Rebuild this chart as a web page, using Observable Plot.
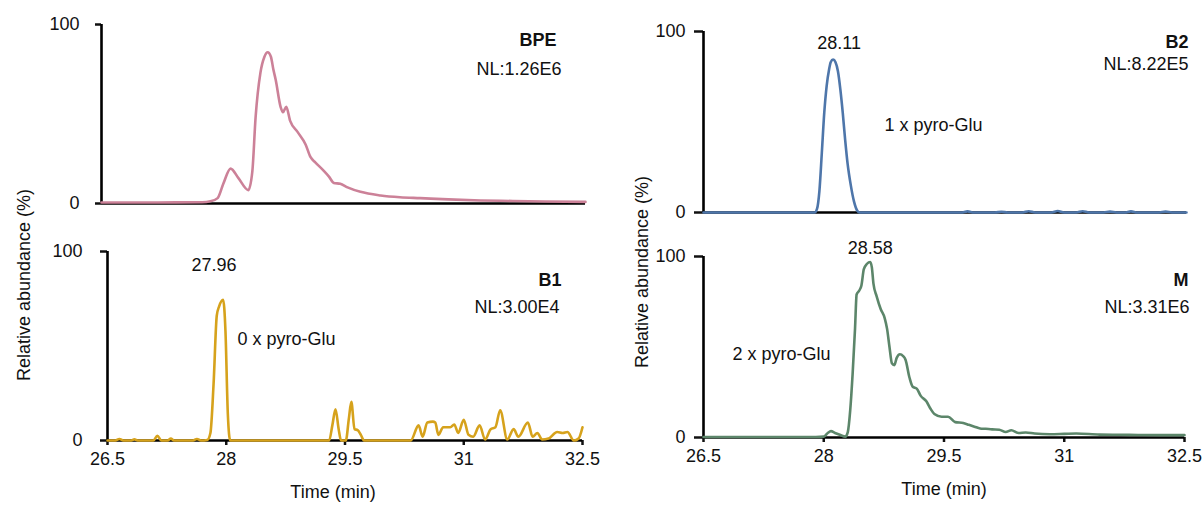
<!DOCTYPE html>
<html>
<head>
<meta charset="utf-8">
<script src="https://cdn.jsdelivr.net/npm/d3@7"></script>
<script src="https://cdn.jsdelivr.net/npm/@observablehq/plot@0.6"></script>
<style>
  html, body { margin: 0; padding: 0; background: #fff; }
  #chart { position: relative; width: 1203px; height: 505px; overflow: hidden;
           font-family: "Liberation Sans", Arial, sans-serif; font-size: 18px; color: #111; }
  .panel { position: absolute; }
  .ylabel { position: absolute; white-space: nowrap; transform: translate(-50%, -50%) rotate(-90deg); }
</style>
</head>
<body>
<div id="chart"></div>
<script>
// Retention-time axis and relative-abundance axis ticks
const timeTicks = [26.5, 28, 29.5, 31, 32.5];
const abundanceTicks = [0, 100];

// Base peak electropherogram (BPE)
const bpeTime = [26.5, 27.2, 27.75, 27.85, 27.94, 28.01, 28.1, 28.2, 28.32, 28.37, 28.41, 28.47, 28.52, 28.56, 28.6, 28.63, 28.66, 28.72, 28.75, 28.79, 28.84, 28.93, 29.03, 29.09, 29.15, 29.25, 29.32, 29.38, 29.46, 29.55, 29.71, 29.96, 30.2, 30.45, 30.8, 31.2, 31.6, 32.0, 32.5];
const bpeAbundance = [0.6, 0.6, 0.7, 1.2, 3, 11, 19.5, 14, 7.5, 18, 48, 73, 82, 84.5, 82, 75, 69, 54, 51, 54, 46, 40, 33, 26, 23, 18.5, 15, 11.5, 11, 9, 6.5, 4.5, 3.5, 3, 2.3, 1.7, 1.4, 1.1, 0.9];

// Extracted trace B1 (0 x pyro-Glu)
const b1Time = [26.5, 26.6, 26.65, 26.7, 26.8, 26.84, 26.88, 27.08, 27.13, 27.18, 27.26, 27.3, 27.34, 27.58, 27.63, 27.68, 27.76, 27.8, 27.84, 27.88, 27.91, 27.96, 27.99, 28.02, 28.05, 29.3, 29.34, 29.38, 29.42, 29.45, 29.51, 29.55, 29.58, 29.62, 29.66, 29.7, 29.74, 30.33, 30.43, 30.48, 30.54, 30.61, 30.64, 30.68, 30.74, 30.83, 30.88, 30.93, 31.0, 31.06, 31.12, 31.2, 31.27, 31.34, 31.4, 31.46, 31.55, 31.63, 31.69, 31.81, 31.87, 31.93, 31.99, 32.07, 32.18, 32.25, 32.31, 32.39, 32.45, 32.5];
const b1Abundance = [0, 0, 0.8, 0, 0, 0.6, 0, 0, 2.5, 0, 0, 1, 0, 0, 0.8, 0, 0.3, 4, 30, 66, 71, 74.5, 58, 14, 0, 0, 8, 16.5, 6, 0, 0, 12, 20.5, 6, 5.5, 3, 0, 0, 8, 2, 9.5, 10, 9.5, 3, 7, 7, 8.5, 4, 11, 3, 2, 8, 0.5, 6, 7, 16, 0.5, 6, 2, 9.5, 2, 4, 0.5, 1, 4.5, 4, 4.5, 0, 1, 7];

// Extracted trace B2 (1 x pyro-Glu)
const b2Time = [26.5, 27.88, 27.91, 27.94, 27.97, 28.0, 28.03, 28.06, 28.08, 28.11, 28.14, 28.17, 28.2, 28.23, 28.26, 28.29, 28.33, 28.37, 28.41, 28.44, 29.7, 29.78, 29.86, 30.12, 30.2, 30.28, 30.46, 30.54, 30.62, 30.82, 30.9, 30.98, 31.13, 31.21, 31.29, 31.47, 31.55, 31.63, 31.73, 31.81, 31.89, 32.16, 32.24, 32.32, 32.5];
const b2Abundance = [0, 0, 2, 12, 33, 55, 70, 79, 83, 84.5, 83, 78, 68, 55, 40, 27, 15, 6, 1, 0, 0, 0.6, 0, 0, 0.4, 0, 0, 0.7, 0, 0, 0.8, 0, 0, 0.7, 0, 0, 0.5, 0, 0, 0.6, 0, 0, 0.5, 0, 0];

// Extracted trace M (2 x pyro-Glu)
const mTime = [26.5, 27.9, 28.0, 28.05, 28.09, 28.14, 28.2, 28.27, 28.3, 28.33, 28.36, 28.39, 28.41, 28.44, 28.47, 28.5, 28.54, 28.58, 28.6, 28.62, 28.66, 28.71, 28.76, 28.79, 28.82, 28.85, 28.88, 28.91, 28.95, 28.99, 29.02, 29.07, 29.11, 29.16, 29.21, 29.28, 29.33, 29.38, 29.47, 29.55, 29.64, 29.74, 29.81, 29.88, 29.95, 30.02, 30.1, 30.19, 30.27, 30.34, 30.43, 30.52, 30.63, 30.82, 31.0, 31.15, 31.44, 31.7, 31.92, 32.2, 32.5];
const mAbundance = [0.3, 0.3, 0.5, 2.5, 3.5, 2.5, 1.5, 0.5, 3, 15, 35, 60, 79, 81, 84, 93, 96, 97, 94, 85, 78, 71, 66, 60, 50, 41, 40, 44, 46, 45, 43, 33, 28, 27, 23, 20, 16, 13, 11.5, 11.5, 8.5, 8, 7, 6, 5, 4.8, 4.5, 4.3, 3, 4, 2.5, 2.8, 2.2, 1.8, 2, 2.2, 1.6, 1.5, 1.4, 1.3, 1.3];

const rows = (time, value) => time.map((t, i) => ({t, v: value[i]}));

const panels = [
  {name: "BPE", nl: "NL:1.26E6", data: rows(bpeTime, bpeAbundance), color: "#CC8198",
   left: 31, top: 12, mL: 70, mR: 15, mT: 12, mB: 10, w: 484, h: 179,
   xAxis: false, tickSize: 6, tickPad: 16,
   nameAt: [-29, 9], nlAt: [-24, 38]},
  {name: "B1", nl: "NL:3.00E4", note: "0 x pyro-Glu", data: rows(b1Time, b1Abundance), color: "#D6A21C",
   left: 32, top: 231, mL: 75, mR: 20, mT: 20, mB: 65, w: 475, h: 189,
   xAxis: true, tickSize: 7, tickPad: 18, titleDx: -12,
   nameAt: [-21, 22], nlAt: [-23, 49], noteAt: [130, 81], peakAt: [-9, -34]},
  {name: "B2", nl: "NL:8.22E5", note: "1 x pyro-Glu", data: rows(b2Time, b2Abundance), color: "#4E76AA",
   left: 643, top: 19, mL: 60, mR: 15, mT: 12, mB: 10, w: 483, h: 181,
   xAxis: false, tickSize: 9, tickPad: 9,
   nameAt: [2, 4], nlAt: [2, 26], noteAt: [181, 87], peakAt: [6, -16]},
  {name: "M", nl: "NL:3.31E6", note: "2 x pyro-Glu", data: rows(mTime, mAbundance), color: "#5C866A",
   left: 643, top: 236, mL: 60, mR: 19, mT: 20, mB: 65, w: 481, h: 181,
   xAxis: true, tickSize: 9, tickPad: 9, titleDx: 0,
   nameAt: [4, 17], nlAt: [5, 44], noteAt: [29, 91], peakAt: [0, -14]}
];

const chart = document.getElementById("chart");

for (const p of panels) {
  const apex = d3.greatest(p.data, d => d.v);
  const marks = [
    Plot.axisY({ticks: abundanceTicks, tickSize: p.tickSize, tickPadding: p.tickPad,
                strokeWidth: 2.5, label: null, tickFormat: d => String(d)}),
    Plot.ruleX([26.5], {y1: 0, y2: 100, stroke: "#000", strokeWidth: 2.6}),
    Plot.ruleY([0], {stroke: "#000", strokeWidth: 2.6}),
    Plot.line(p.data, {x: "t", y: "v", stroke: p.color, strokeWidth: 2.6, curve: "monotone-x"}),
    Plot.text([p.name], {frameAnchor: "top-right", textAnchor: "end", fontWeight: "bold",
                         dx: p.nameAt[0], dy: p.nameAt[1]}),
    Plot.text([p.nl], {frameAnchor: "top-right", textAnchor: "end", dx: p.nlAt[0], dy: p.nlAt[1]})
  ];
  if (p.xAxis) {
    marks.unshift(Plot.axisX({ticks: timeTicks, tickSize: 5, tickPadding: 7, strokeWidth: 2.5,
                              label: null, tickFormat: d => String(d)}));
    marks.push(Plot.text(["Time (min)"], {frameAnchor: "bottom", dx: p.titleDx, dy: 57}));
  }
  if (p.note) {
    marks.push(Plot.text([p.note], {frameAnchor: "top-left", textAnchor: "start",
                                    dx: p.noteAt[0], dy: p.noteAt[1]}));
    marks.push(Plot.text([apex], {x: "t", y: "v", text: d => d.t.toFixed(2),
                                  dx: p.peakAt[0], dy: p.peakAt[1]}));
  }
  const svg = Plot.plot({
    width: p.mL + p.w + p.mR,
    height: p.mT + p.h + p.mB,
    marginLeft: p.mL, marginRight: p.mR, marginTop: p.mT, marginBottom: p.mB,
    x: {domain: [26.5, 32.5], axis: p.xAxis ? undefined : null},
    y: {domain: [0, 100]},
    style: {fontFamily: "'Liberation Sans', Arial, sans-serif", fontSize: "18px",
            color: "#111", background: "transparent", overflow: "visible"},
    marks
  });
  const holder = document.createElement("div");
  holder.className = "panel";
  holder.style.left = p.left + "px";
  holder.style.top = p.top + "px";
  holder.appendChild(svg);
  chart.appendChild(holder);
}

// Shared y-axis titles for each column
for (const [x, y] of [[24, 285], [642, 272]]) {
  const lab = document.createElement("div");
  lab.className = "ylabel";
  lab.style.left = x + "px";
  lab.style.top = y + "px";
  lab.textContent = "Relative abundance (%)";
  chart.appendChild(lab);
}
</script>
</body>
</html>
